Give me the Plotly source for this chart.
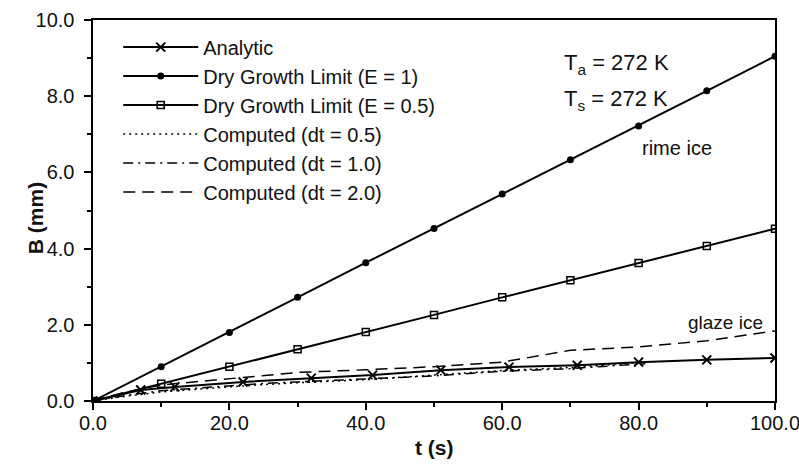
import plotly.graph_objects as go

# Data
t_analytic = [0, 7, 12, 22, 32, 41, 51, 61, 71, 80, 90, 100]
b_analytic = [0, 0.29, 0.37, 0.50, 0.60, 0.68, 0.81, 0.89, 0.94, 1.02, 1.08, 1.13]

t_dry = [0, 10, 20, 30, 40, 50, 60, 70, 80, 90, 100]
b_dry_e1 = [0, 0.90, 1.80, 2.72, 3.63, 4.53, 5.43, 6.33, 7.22, 8.14, 9.05]
b_dry_e05 = [0, 0.45, 0.90, 1.36, 1.81, 2.26, 2.72, 3.17, 3.62, 4.07, 4.52]

t_c05 = [0, 5, 10, 15, 20, 25, 30, 40, 50, 60, 70, 80]
b_c05 = [0, 0.13, 0.24, 0.31, 0.37, 0.43, 0.48, 0.56, 0.68, 0.80, 0.88, 1.00]

t_c10 = [0, 5, 10, 15, 20, 25, 30, 40, 50, 60, 70, 81]
b_c10 = [0, 0.15, 0.27, 0.33, 0.40, 0.46, 0.50, 0.58, 0.66, 0.78, 0.85, 0.98]

t_c20 = [0, 4, 10, 20, 30, 40, 50, 60, 70, 80, 90, 100]
b_c20 = [0, 0.20, 0.42, 0.58, 0.75, 0.82, 0.90, 1.02, 1.33, 1.42, 1.58, 1.84]

x_ticks = [0, 20, 40, 60, 80, 100]
x_tick_labels = ["0.0", "20.0", "40.0", "60.0", "80.0", "100.0"]
y_ticks = [0, 2, 4, 6, 8, 10]
y_tick_labels = ["0.0", "2.0", "4.0", "6.0", "8.0", "10.0"]

FONT = "Liberation Sans, Arial, sans-serif"
K = "black"
TXT = "#111"

fig = go.Figure()
fig.add_trace(go.Scatter(x=t_analytic, y=b_analytic, name="Analytic", mode="lines+markers",
                         line=dict(color=K, width=2),
                         marker=dict(symbol="x-thin", size=9, line=dict(color=K, width=2), color=K)))
fig.add_trace(go.Scatter(x=t_dry, y=b_dry_e1, name="Dry Growth Limit (E = 1)", mode="lines+markers",
                         line=dict(color=K, width=2), marker=dict(symbol="circle", size=7, color=K)))
fig.add_trace(go.Scatter(x=t_dry, y=b_dry_e05, name="Dry Growth Limit (E = 0.5)", mode="lines+markers",
                         line=dict(color=K, width=2),
                         marker=dict(symbol="square-open", size=7, color=K, line=dict(width=1.5))))
fig.add_trace(go.Scatter(x=t_c05, y=b_c05, name="Computed (dt = 0.5)", mode="lines",
                         line=dict(color=K, width=1.5, dash="2px,4px")))
fig.add_trace(go.Scatter(x=t_c10, y=b_c10, name="Computed (dt = 1.0)", mode="lines",
                         line=dict(color=K, width=1.5, dash="10px,5px,2px,5px")))
fig.add_trace(go.Scatter(x=t_c20, y=b_c20, name="Computed (dt = 2.0)", mode="lines",
                         line=dict(color=K, width=1.5, dash="12px,7px")))

axis_common = dict(showline=True, linecolor=K, linewidth=2, mirror=True, showgrid=False,
                   zeroline=False, ticks="outside", ticklen=7, tickwidth=2, tickcolor=K,
                   automargin=False, ticklabeloverflow="allow",
                   tickfont=dict(family=FONT, size=20, color=TXT),
                   minor=dict(ticks="outside", ticklen=4, tickwidth=1.5, tickcolor=K))

fig.update_xaxes(range=[0, 100], tickvals=x_ticks, ticktext=x_tick_labels,
                 minor_tickvals=[10, 30, 50, 70, 90], ticklabelstandoff=-4, **axis_common)
fig.update_yaxes(range=[0, 10], tickvals=y_ticks,
                 ticktext=[lbl + "\u00a0" for lbl in y_tick_labels],
                 minor_tickvals=[1, 3, 5, 7, 9], **axis_common)

ann_font = dict(family=FONT, size=22, color=TXT)
title_font = dict(family=FONT, size=21, color=TXT)
fig.update_layout(
    width=799, height=468,
    margin=dict(l=93, r=24, t=20, b=67),
    paper_bgcolor="white", plot_bgcolor="white",
    font=dict(family=FONT, size=20, color=TXT),
    showlegend=True,
    legend=dict(x=0.037, y=0.98, xanchor="left", yanchor="top", bgcolor="rgba(0,0,0,0)",
                font=dict(family=FONT, size=20, color=TXT), tracegroupgap=0,
                itemwidth=75),
    annotations=[
        dict(x=0.5, y=-0.123, xref="paper", yref="paper", text="<b>t (s)</b>",
             showarrow=False, xanchor="center", yanchor="middle", font=title_font),
        dict(x=-0.085, y=0.48, xref="paper", yref="paper", text="<b>B (mm)</b>",
             showarrow=False, xanchor="center", yanchor="middle", textangle=-90, font=title_font),
        dict(x=0.687, y=0.885, xref="paper", yref="paper", text="T<sub>a</sub> = 272 K",
             showarrow=False, xanchor="left", yanchor="middle", font=ann_font),
        dict(x=0.687, y=0.79, xref="paper", yref="paper", text="T<sub>s</sub> = 272 K",
             showarrow=False, xanchor="left", yanchor="middle", font=ann_font),
        dict(x=80.2, y=6.65, text="rime ice", showarrow=False, xanchor="left", yanchor="middle",
             font=dict(family=FONT, size=20, color=TXT)),
        dict(x=87.0, y=2.05, text="glaze ice", showarrow=False, xanchor="left", yanchor="middle",
             font=dict(family=FONT, size=19, color=TXT)),
    ],
)

fig.write_html("out.html", config={"displayModeBar": False},
               post_script="document.body.style.margin='0';")
